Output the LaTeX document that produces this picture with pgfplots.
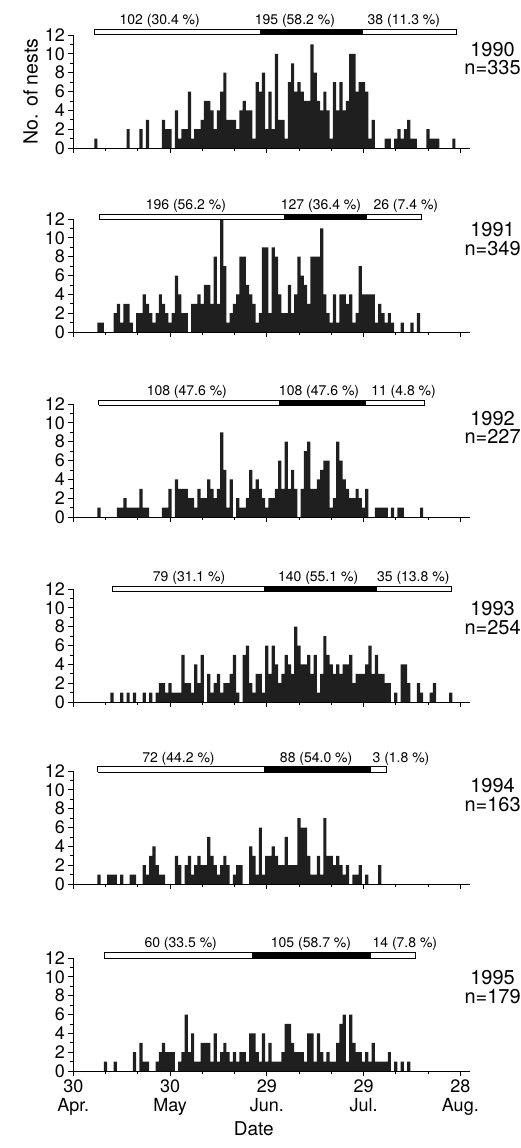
\documentclass[border=0pt]{standalone}
\usepackage{fontspec}
\setmainfont{TeX Gyre Heros}
\usepackage{pgfplots}
\pgfplotsset{compat=1.18}

\pgfplotsset{
  panel/.style={
    scale only axis, width=396.7bp, height=113bp,
    xmin=0, xmax=123, ymin=0, ymax=12,
    axis x line*=bottom, axis y line*=left,
    axis line style={line width=0.8pt},
    xtick={0,30,60,90,120}, minor xtick={10,20,40,50,70,80,100,110},
    ytick={0,2,...,12}, minor ytick={1,3,...,11},
    xticklabels={},
    tick align=outside,
    major tick length=5bp, minor tick length=3bp,
    tick style={black, line width=0.7pt},
    tick label style={font=\fontsize{18bp}{19bp}\selectfont},
    /pgf/number format/assume math mode=true,
    clip=false,
    anchor=south west,
  },
  hist/.style={ybar, bar width=1, bar shift=0pt, fill=black!88, draw=none},
  seg/.style={draw=black, line width=0.8pt, mark=none, line join=miter},
}
\tikzset{
  pct/.style={font=\fontsize{14bp}{16bp}\selectfont, anchor=base},
  yr/.style={font=\fontsize{20bp}{21bp}\selectfont, anchor=base},
}

\begin{document}
\begin{tikzpicture}
\path[use as bounding box] (0,0) rectangle (521bp,-1148bp);

% ---- 1990
\begin{axis}[panel, at={(73.3bp,-148bp)},
  ylabel={No. of nests}, ylabel style={font=\fontsize{19.5bp}{21bp}\selectfont}]
\addplot[hist] coordinates {
(7,1) (17,2) (21,2) (23,3) (28,3) (29,2) (30,2) (32,4) (33,1) (34,2) (35,2) (36,6)
(37,1) (38,2) (39,2) (40,3) (41,5) (42,5) (43,4) (44,2) (45,4) (46,6) (47,8) (48,3)
(49,3) (50,3) (51,2) (52,4) (53,5) (54,4) (55,4) (56,1) (57,7) (58,6) (59,8) (60,2)
(61,6) (62,2) (63,10) (64,3) (65,3) (66,1) (67,7) (68,9) (69,6) (70,7) (71,6) (72,5)
(73,5) (74,11) (75,8) (76,5) (77,4) (78,6) (79,4) (80,1) (81,7) (82,4) (83,7) (84,4)
(85,5) (86,10) (87,10) (88,6) (89,7) (90,7) (91,6) (92,1) (93,3) (97,1) (98,1) (100,1)
(101,2) (102,1) (103,2) (104,3) (105,1) (106,1) (110,2) (111,1) (112,1) (113,1) (118,1)};
\addplot[seg, fill=white] coordinates {(6.5,12.05) (118.7,12.05) (118.7,12.6) (6.5,12.6) (6.5,12.05)};
\addplot[seg, fill=black] coordinates {(58,12.05) (89.6,12.05) (89.6,12.6) (58,12.6) (58,12.05)};
\node[pct] at (axis cs:26.8,13.1) {102 (30.4 \%)};
\node[pct] at (axis cs:68.7,13.1) {195 (58.2 \%)};
\node[pct] at (axis cs:102.5,13.1) {38 (11.3 \%)};
\node[yr] at (axis cs:130,9.77) {1990};
\node[yr] at (axis cs:130,7.77) {n=335};
\end{axis}

% ---- 1991
\begin{axis}[panel, at={(73.3bp,-332bp)}]
\addplot[hist] coordinates {
(8,1) (9,1) (13,2) (14,3) (15,1) (16,3) (17,3) (18,1) (20,2) (21,2) (22,4) (23,3)
(24,2) (25,1) (26,2) (27,4) (28,3) (29,2) (30,1) (31,2) (32,6) (33,4) (34,2) (35,2)
(37,3) (38,3) (39,4) (40,3) (41,5) (42,5) (43,3) (44,8) (45,3) (46,12) (47,7) (48,1)
(49,2) (50,3) (51,4) (52,8) (53,8) (54,5) (55,4) (56,3) (57,1) (58,2) (59,9) (60,9)
(61,2) (62,9) (63,8) (64,4) (65,2) (66,2) (67,5) (68,2) (69,4) (70,8) (71,6) (72,5)
(73,3) (74,8) (75,8) (76,8) (77,11) (78,4) (79,2) (80,1) (81,4) (82,1) (83,4) (84,4)
(85,3) (86,4) (87,1) (88,2) (89,7) (90,4) (91,4) (92,4) (93,4) (94,1) (95,3) (96,2)
(97,1) (98,2) (99,1) (102,1) (105,1) (107,2)};
\addplot[seg, fill=white] coordinates {(8,11.95) (108,11.95) (108,12.5) (8,12.5) (8,11.95)};
\addplot[seg, fill=black] coordinates {(65.6,11.95) (90.9,11.95) (90.9,12.5) (65.6,12.5) (65.6,11.95)};
\node[pct] at (axis cs:34.9,13.0) {196 (56.2 \%)};
\node[pct] at (axis cs:76.8,13.0) {127 (36.4 \%)};
\node[pct] at (axis cs:103.1,13.0) {26 (7.4 \%)};
\node[yr] at (axis cs:130,10.17) {1991};
\node[yr] at (axis cs:130,8.17) {n=349};
\end{axis}

% ---- 1992
\begin{axis}[panel, at={(73.3bp,-517bp)}]
\addplot[hist] coordinates {
(8,1) (14,1) (15,1) (16,2) (17,1) (18,1) (19,1) (20,1) (21,3) (22,1) (23,1)
(28,1) (29,1) (30,3) (32,4) (33,3) (34,3) (35,3) (36,2) (37,2) (38,1) (39,3) (40,2)
(41,2) (42,4) (43,3) (44,2) (45,3) (46,9) (47,5) (48,1) (49,4) (51,2) (52,1) (53,1)
(54,2) (55,5) (56,3) (57,4) (58,3) (59,2) (60,1) (61,2) (62,2) (63,3) (64,6) (65,3)
(66,8) (67,3) (68,5) (69,3) (71,3) (72,7) (73,8) (74,3) (75,3) (76,4) (77,5) (78,6)
(79,6) (80,1) (81,2) (82,8) (83,6) (84,4) (85,3) (86,2) (87,2) (88,3) (89,2) (90,1)
(91,3) (94,1) (95,1) (96,1) (97,1) (99,1) (101,1) (102,1) (108,1)};
\addplot[seg, fill=white] coordinates {(7.9,11.85) (109,11.85) (109,12.4) (7.9,12.4) (7.9,11.85)};
\addplot[seg, fill=black] coordinates {(64,11.85) (90.7,11.85) (90.7,12.4) (64,12.4) (64,11.85)};
\node[pct] at (axis cs:35.2,12.9) {108 (47.6 \%)};
\node[pct] at (axis cs:76.2,12.9) {108 (47.6 \%)};
\node[pct] at (axis cs:102.4,12.9) {11 (4.8 \%)};
\node[yr] at (axis cs:130,9.77) {1992};
\node[yr] at (axis cs:130,7.77) {n=227};
\end{axis}

% ---- 1993
\begin{axis}[panel, at={(73.3bp,-702bp)}]
\addplot[hist] coordinates {
(12,1) (15,1) (17,1) (19,1) (22,1) (24,1) (26,1) (27,2) (28,2) (29,1) (30,2) (31,1)
(32,1) (33,1) (34,5) (35,2) (36,2) (37,1) (38,4) (39,2) (40,5) (42,3) (43,1) (44,2)
(45,3) (46,1) (47,2) (48,2) (49,3) (50,5) (51,1) (53,5) (54,6) (55,2) (56,1) (57,3)
(58,3) (59,1) (60,6) (61,3) (62,6) (63,4) (64,2) (65,3) (66,5) (67,4) (68,3) (69,8)
(70,6) (71,4) (72,4) (73,5) (74,3) (75,5) (76,1) (77,3) (78,7) (79,5) (80,4) (81,3)
(82,4) (83,3) (84,4) (85,4) (86,5) (87,2) (88,3) (89,3) (90,3) (91,4) (92,6) (93,3)
(94,5) (95,3) (96,3) (97,2) (98,2) (100,1) (102,4) (103,4) (104,2) (107,2) (108,1)
(111,1) (112,2) (117,1)};
\addplot[seg, fill=white] coordinates {(12,11.7) (117.1,11.7) (117.1,12.25) (12,12.25) (12,11.7)};
\addplot[seg, fill=black] coordinates {(59.3,11.7) (93.9,11.7) (93.9,12.25) (59.3,12.25) (59.3,11.7)};
\node[pct] at (axis cs:35.9,12.75) {79 (31.1 \%)};
\node[pct] at (axis cs:75.9,12.75) {140 (55.1 \%)};
\node[pct] at (axis cs:105.4,12.75) {35 (13.8 \%)};
\node[yr] at (axis cs:130,9.17) {1993};
\node[yr] at (axis cs:130,7.17) {n=254};
\end{axis}

% ---- 1994
\begin{axis}[panel, at={(73.3bp,-884bp)}]
\addplot[hist] coordinates {
(8,1) (11,1) (12,1) (13,1) (15,1) (18,1) (19,1) (22,2) (23,1) (24,3) (25,4) (26,2)
(27,1) (28,1) (32,3) (33,2) (35,2) (36,3) (37,1) (38,2) (39,3) (40,2) (41,2) (42,5)
(43,3) (44,2) (45,1) (46,2) (47,3) (48,2) (50,1) (51,2) (52,2) (55,4) (56,3) (57,1)
(58,6) (59,1) (60,3) (61,3) (62,4) (63,3) (64,2) (65,2) (66,5) (67,2) (68,2) (69,2)
(70,7) (71,6) (72,6) (73,3) (74,1) (75,1) (76,3) (77,1) (78,7) (79,3) (80,3) (81,2)
(82,3) (83,2) (84,1) (85,2) (87,1) (88,1) (89,2) (91,1) (95,2)};
\addplot[seg, fill=white] coordinates {(7.6,11.9) (97.1,11.9) (97.1,12.45) (7.6,12.45) (7.6,11.9)};
\addplot[seg, fill=black] coordinates {(59.3,11.9) (92.2,11.9) (92.2,12.45) (59.3,12.45) (59.3,11.9)};
\node[pct] at (axis cs:32.6,12.95) {72 (44.2 \%)};
\node[pct] at (axis cs:75.3,12.95) {88 (54.0 \%)};
\node[pct] at (axis cs:101.6,12.95) {3 (1.8 \%)};
\node[yr] at (axis cs:130,9.67) {1994};
\node[yr] at (axis cs:130,7.67) {n=163};
\end{axis}

% ---- 1995
\begin{axis}[panel, at={(73.3bp,-1071bp)},
  xticklabels={{30\\Apr.},{30\\May},{29\\Jun.},{29\\Jul.},{28\\Aug.}},
  xticklabel style={align=center, font=\fontsize{18bp}{19bp}\selectfont},
  xlabel={Date},
  xlabel style={font=\fontsize{19bp}{20bp}\selectfont, at={(ticklabel cs:0.455)}}]
\addplot[hist] coordinates {
(10,1) (13,1) (19,2) (21,3) (22,1) (23,1) (26,1) (27,2) (28,3) (29,2) (30,2) (31,2)
(33,1) (34,2) (35,6) (36,2) (37,4) (38,1) (39,1) (40,3) (41,3) (42,3) (43,1) (44,4)
(45,1) (46,2) (47,3) (48,2) (49,1) (50,2) (51,1) (52,2) (53,2) (54,1) (55,4) (56,4)
(57,2) (58,1) (59,4) (60,1) (61,3) (62,1) (63,1) (64,1) (65,2) (66,5) (67,5) (68,3)
(69,2) (70,2) (71,2) (72,1) (73,4) (74,4) (75,1) (76,4) (77,2) (78,1) (79,2) (80,1)
(81,1) (82,3) (83,5) (84,6) (85,1) (86,6) (87,3) (88,2) (89,2) (90,1) (91,2) (92,1)
(93,3) (94,1) (95,1) (96,1) (97,1) (98,2) (100,1) (102,1) (104,1)};
\addplot[seg, fill=white] coordinates {(9.6,12.0) (106.2,12.0) (106.2,12.6) (9.6,12.6) (9.6,12.0)};
\addplot[seg, fill=black] coordinates {(55.6,12.0) (92.2,12.0) (92.2,12.6) (55.6,12.6) (55.6,12.0)};
\node[pct] at (axis cs:33.3,13.1) {60 (33.5 \%)};
\node[pct] at (axis cs:73.7,13.1) {105 (58.7 \%)};
\node[pct] at (axis cs:102.8,13.1) {14 (7.8 \%)};
\node[yr] at (axis cs:130,9.17) {1995};
\node[yr] at (axis cs:130,7.17) {n=179};
\end{axis}
\end{tikzpicture}
\end{document}
